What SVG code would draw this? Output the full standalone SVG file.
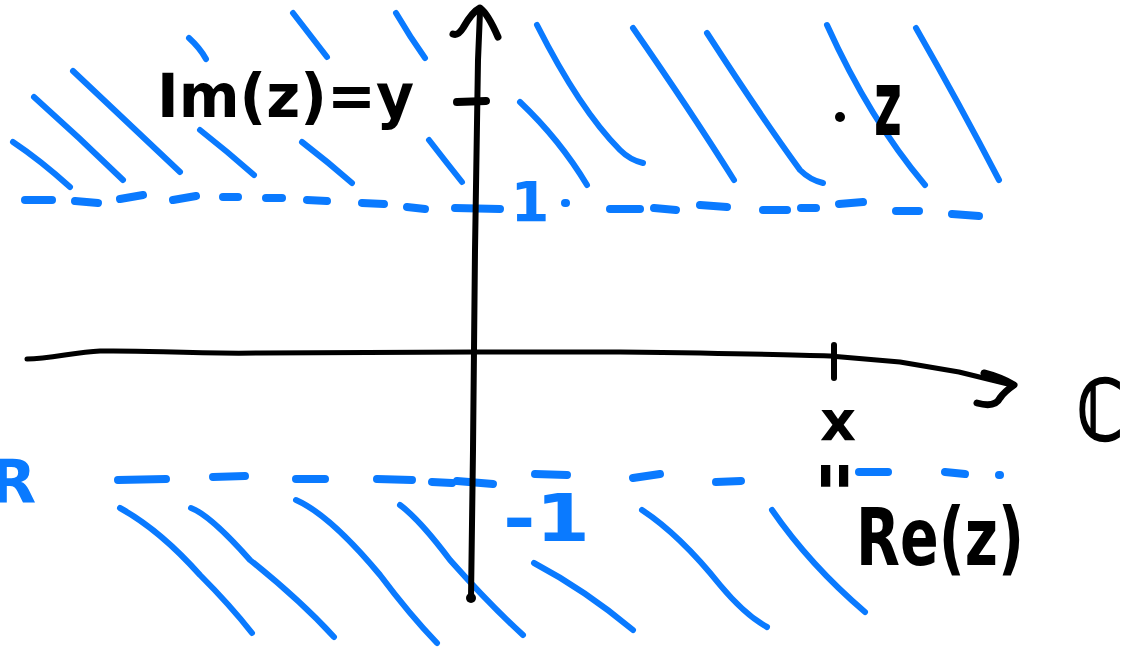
<svg xmlns="http://www.w3.org/2000/svg" width="1129" height="647" viewBox="0 0 1129 647">
<style>
.h{fill:none;stroke:#0A7AFF;stroke-width:6;stroke-linecap:round;stroke-linejoin:round}
.d{fill:none;stroke:#0A7AFF;stroke-width:8;stroke-linecap:round}
.ax{fill:none;stroke:#000;stroke-linecap:round;stroke-linejoin:round}
.tb{font-family:"DejaVu Sans",sans-serif;font-weight:bold;fill:#000}
.tblue{font-family:"DejaVu Sans",sans-serif;font-weight:bold;fill:#0A7AFF}
</style>
<rect width="1129" height="647" fill="#fff"/>
<g id="hatch-upper">
<path class="h" d="M13,142 Q40,160 70,187"/>
<path class="h" d="M34,97 Q80,138 123,180"/>
<path class="h" d="M73,71 Q130,125 180,172"/>
<path class="h" d="M189,38 Q200,48 206,59"/>
<path class="h" d="M200,130 Q228,152 254,175"/>
<path class="h" d="M293,13 Q310,35 327,57"/>
<path class="h" d="M302,142 Q328,162 352,183"/>
<path class="h" d="M396,13 Q410,37 425,58"/>
<path class="h" d="M429,140 Q446,162 462,182"/>
<path class="h" d="M537,25 Q580,110 620,150 Q630,160 643,163"/>
<path class="h" d="M520,102 Q560,140 587,185"/>
<path class="h" d="M633,28 Q690,110 734,180"/>
<path class="h" d="M707,33 Q760,115 800,170 Q810,180 823,183"/>
<path class="h" d="M827,25 Q870,120 925,185"/>
<path class="h" d="M916,28 Q960,105 999,180"/>
</g>
<g id="hatch-lower">
<path class="h" d="M120,508 Q160,530 200,575 Q230,605 252,633"/>
<path class="h" d="M191,508 Q210,515 250,560 Q300,600 334,637"/>
<path class="h" d="M296,500 Q330,515 380,575 Q410,615 437,643"/>
<path class="h" d="M400,505 Q420,520 450,560 Q490,605 523,635"/>
<path class="h" d="M534,563 Q585,590 633,630"/>
<path class="h" d="M642,510 Q680,535 720,585 Q745,615 767,627"/>
<path class="h" d="M772,510 Q810,565 865,612"/>
</g>
<g id="dashes-upper">
<line class="d" x1="25" y1="200" x2="52" y2="200"/>
<line class="d" x1="75" y1="201" x2="98" y2="203"/>
<line class="d" x1="120" y1="199" x2="143" y2="195"/>
<line class="d" x1="173" y1="200" x2="196" y2="196"/>
<line class="d" x1="223" y1="197" x2="238" y2="197"/>
<line class="d" x1="266" y1="198" x2="282" y2="198"/>
<line class="d" x1="307" y1="200" x2="327" y2="201"/>
<line class="d" x1="362" y1="203" x2="384" y2="204"/>
<line class="d" x1="407" y1="207" x2="425" y2="209"/>
<line class="d" x1="455" y1="208" x2="500" y2="209"/>
<line class="d" x1="565" y1="203" x2="566" y2="203"/>
<line class="d" x1="610" y1="209" x2="640" y2="209"/>
<line class="d" x1="654" y1="208" x2="676" y2="210"/>
<line class="d" x1="700" y1="205" x2="727" y2="207"/>
<line class="d" x1="763" y1="210" x2="787" y2="210"/>
<line class="d" x1="801" y1="208" x2="816" y2="208"/>
<line class="d" x1="839" y1="204" x2="863" y2="202"/>
<line class="d" x1="896" y1="211" x2="919" y2="211"/>
<line class="d" x1="952" y1="214" x2="979" y2="216"/>
</g>
<g id="dashes-lower">
<line class="d" x1="118" y1="480" x2="166" y2="479"/>
<line class="d" x1="213" y1="477" x2="245" y2="476"/>
<line class="d" x1="296" y1="479" x2="325" y2="479"/>
<line class="d" x1="377" y1="479" x2="412" y2="480"/>
<line class="d" x1="432" y1="482" x2="452" y2="483"/>
<line class="d" x1="457" y1="481" x2="493" y2="484"/>
<line class="d" x1="535" y1="474" x2="567" y2="475"/>
<line class="d" x1="633" y1="478" x2="660" y2="474"/>
<line class="d" x1="716" y1="482" x2="741" y2="481"/>
<line class="d" x1="859" y1="472" x2="888" y2="472"/>
<line class="d" x1="945" y1="472" x2="965" y2="474"/>
<line class="d" x1="999" y1="475" x2="1000" y2="475"/>
</g>
<g id="axes">
<path class="ax" stroke-width="5" d="M27,359 C50,359 75,352 100,351 C150,350 180,354 260,353 L475,352 L620,352 C700,353 780,354 830,356 L900,362 L959,372 L1012,385"/>
<path class="ax" stroke-width="7" d="M984,373 Q1000,377 1014,385 Q1004,392 1000,398 Q995,408 977,403"/>
<line class="ax" stroke-width="6" x1="834" y1="345" x2="834" y2="378"/>
<path class="ax" stroke-width="6" d="M471,598 L473,450 L475,250 L478,60 L480,12"/>
<path class="ax" stroke-width="7" d="M453,34 Q458,36 463,28 Q472,12 480,8 Q488,14 498,37"/>
<line class="ax" stroke-width="8" x1="457" y1="102" x2="486" y2="101"/>
<circle cx="471" cy="598" r="5" fill="#000"/>
</g>
<g id="labels">
<text class="tb" x="157" y="117" font-size="60" textLength="257" lengthAdjust="spacingAndGlyphs">Im(z)=y</text>
<circle cx="840" cy="117" r="5" fill="#000"/>
<text class="tb" transform="translate(888,135) scale(0.8,1.5)" text-anchor="middle" font-size="60">z</text>
<text class="tblue" x="530" y="221" text-anchor="middle" font-size="56">1</text>
<text class="tblue" x="503" y="541" font-size="66" textLength="87" lengthAdjust="spacingAndGlyphs">-1</text>
<text class="tblue" x="-10" y="503" font-size="60">R</text>
<text class="tb" x="838" y="440" text-anchor="middle" font-size="56">x</text>
<text class="tb" transform="translate(836,476) rotate(90) scale(0.7,1.6)" text-anchor="middle" dominant-baseline="central" font-size="50">=</text>
<text class="tb" x="856" y="565" font-size="80" textLength="168" lengthAdjust="spacingAndGlyphs">Re(z)</text>
<text class="tb" transform="translate(1100,440) scale(0.75,1)" text-anchor="middle" font-size="84" stroke="#000" stroke-width="2">ℂ</text>
</g>
</svg>
